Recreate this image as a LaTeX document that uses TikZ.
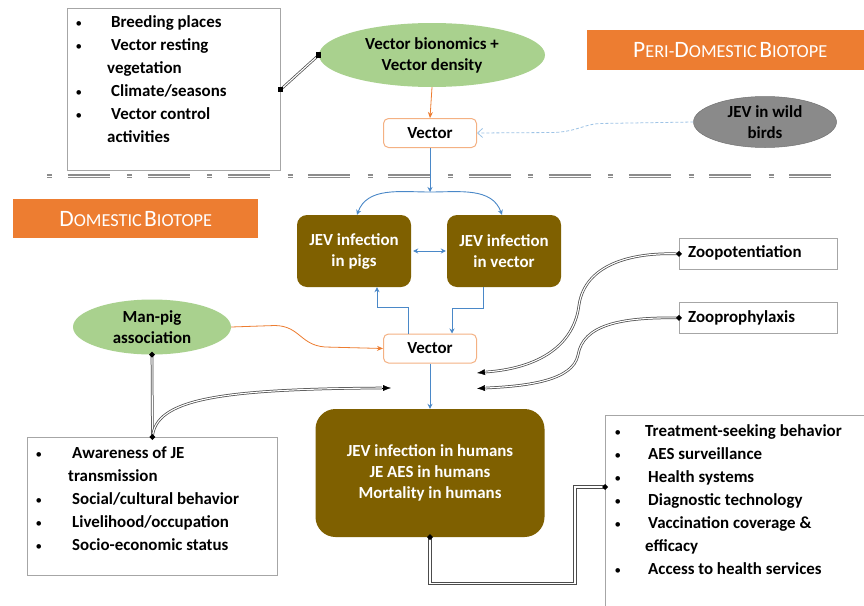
\documentclass[tikz,border=0pt]{standalone}
\usepackage{fontspec}
\setmainfont{Carlito}
\usetikzlibrary{arrows.meta,shapes.geometric,calc}
\definecolor{brownA}{HTML}{7F6000}
\definecolor{greenA}{HTML}{A9D18E}
\definecolor{orangeA}{HTML}{ED7D31}
\definecolor{orangeL}{HTML}{F4B183}
\definecolor{blueA}{HTML}{4A88C8}
\definecolor{blueL}{HTML}{9DC3E6}
\definecolor{grayA}{HTML}{A6A6A6}
\definecolor{grayB}{HTML}{8A8A8A}
\definecolor{sepgray}{HTML}{8C8C8C}
\newcommand\bigc[1]{{\fontsize{23.5}{24}\selectfont #1}}
\newcommand\smlc[1]{{\fontsize{18.3}{24}\selectfont #1}}
\newcommand\bul{{\fontsize{13}{13}\selectfont\mdseries\textbullet}}
\newcommand\dmd[1]{\fill[black] #1 ++(-3,0) -- ++(3,-3) -- ++(3,3) -- ++(-3,3) -- cycle;}
\newcommand\sqm[1]{\fill[black] #1 ++(-2.6,-2.6) rectangle ++(5.2,5.2);}
\tikzset{
  bodyfont/.style={font=\bfseries\fontsize{16.9}{21}\selectfont},
  listfont/.style={font=\bfseries\fontsize{16.9}{23}\selectfont},
  graybox/.style={draw=grayA, line width=0.8pt, fill=white, inner sep=0, anchor=north west},
  vecbox/.style={draw=orangeL, line width=1pt, rounded corners=5pt, fill=white,
    minimum width=93, minimum height=29, inner sep=0, bodyfont},
  brownbox/.style={fill=brownA, text=white, inner sep=0, align=center, bodyfont},
  greenell/.style={ellipse, fill=greenA, inner sep=0, align=center, bodyfont},
  bluearr/.style={draw=blueA, line width=0.9pt, -{Stealth[length=5pt,width=5pt]}},
  orangearr/.style={draw=orangeA, line width=0.8pt, -{Stealth[length=6pt,width=5pt]}},
  dbl/.style={draw=black!70, double=white, double distance=1.1pt, line width=0.75pt},
  tipblk/.style={draw=black, line width=0.4pt, -{Latex[length=8pt,width=6pt]}},
  biotope/.style={fill=orangeA, text=white, inner sep=0, anchor=north west},
  listtext/.style={anchor=north west, inner sep=0, listfont}
}
\begin{document}
\begin{tikzpicture}[x=1pt,y=-1pt]
\useasboundingbox (0,0) rectangle (864,605);
\fill[white] (0,0) rectangle (864,605);

% separator
\coordinate (sepL) at (47,176);
\coordinate (sepR) at (834,176);
\draw[draw=sepgray, double=white, double distance=1pt, line width=1.2pt,
  dash pattern=on 5pt off 15.5pt on 42pt off 17.7pt] (sepL) -- (sepR);

% biotope labels
\node[biotope, minimum width=286, minimum height=40] (peri) at (587,30)
  {\bigc{P}\smlc{ERI-}\bigc{D}\smlc{OMESTIC} \bigc{B}\smlc{IOTOPE}};
\node[biotope, minimum width=245, minimum height=39] (dom) at (13,199)
  {\bigc{D}\smlc{OMESTIC} \bigc{B}\smlc{IOTOPE}};

% top-left box
\node[graybox, minimum width=213, minimum height=162] (tlbox) at (67,8) {};
\node[listtext] (tllist) at (75.5,11) {\begin{tabular}{@{}p{35.5pt}@{}l@{}}
\bul & Breeding places\\
\bul & Vector resting\\
 & \hspace*{-4pt}vegetation\\
\bul & Climate/seasons\\
\bul & Vector control\\
 & \hspace*{-4pt}activities
\end{tabular}};

% ellipses top
\node[greenell, minimum width=226, minimum height=64] (vbe) at (432,55)
  {Vector bionomics +\\Vector density};
\node[ellipse, fill=grayB, draw=gray!90!black, line width=0.5pt, inner sep=0, align=center,
  bodyfont, minimum width=143, minimum height=51] (birds) at (765,122) {JEV in wild\\birds};

% vector boxes
\node[vecbox] (vtop) at (430,133) {Vector};
\node[vecbox] (vbot) at (430,348.5) {Vector};

% infection boxes
\node[brownbox, rounded corners=10pt, minimum width=114, minimum height=72] (pigs) at (354,251)
  {JEV infection\\in pigs};
\node[brownbox, rounded corners=10pt, minimum width=114, minimum height=72] (inf) at (504,251)
  {JEV infection\\in vector};
\node[brownbox, rounded corners=20pt, minimum width=229, minimum height=128] (hum) at (430,473)
  {JEV infection in humans\\JE AES in humans\\Mortality in humans};

% man-pig
\node[greenell, minimum width=158, minimum height=55] (mp) at (152,327)
  {Man-pig\\association};

% awareness box
\node[graybox, minimum width=250, minimum height=138] (aw) at (27,437) {};
\node[listtext] (awlist) at (35.5,442) {\begin{tabular}{@{}p{36.5pt}@{}l@{}}
\bul & Awareness of JE\\
 & \hspace*{-4pt}transmission\\
\bul & Social/cultural behavior\\
\bul & Livelihood/occupation\\
\bul & Socio-economic status
\end{tabular}};

% zoo boxes
\node[graybox, minimum width=158, minimum height=31] (zp) at (679,238) {};
\node[anchor=west, inner sep=0, bodyfont] (zptext) at (688,252.5) {Zoopotentiation};
\node[graybox, minimum width=158, minimum height=31] (zx) at (679,302) {};
\node[anchor=west, inner sep=0, bodyfont] (zxtext) at (688,317.5) {Zooprophylaxis};

% right box
\node[graybox, minimum width=270, minimum height=200] (rb) at (605,415) {};
\node[listtext] (rblist) at (614.5,420) {\begin{tabular}{@{}p{33.5pt}@{}l@{}}
\bul & \hspace*{-3pt}Treatment-seeking behavior\\
\bul & AES surveillance\\
\bul & Health systems\\
\bul & Diagnostic technology\\
\bul & Vaccination coverage \&\\
 & \hspace*{-3pt}efficacy\\
\bul & Access to health services
\end{tabular}};

% ---- connectors ----
\draw[orangearr] (vbe.south) -- (vtop.north);
\draw[blueL, dashed, dash pattern=on 3pt off 2pt, line width=0.8pt,
  -{Straight Barb[length=5pt,width=9pt]}]
  (birds.west) -- (600,123.5) .. controls (585,124) and (578,131) .. (555,132.5) -- (vtop.east);

\coordinate (split) at (430,192);
\draw[bluearr] (vtop.south) -- (split);
\draw[bluearr] (split) to[out=180,in=70] ($(pigs.north)+(3,0)$);
\draw[bluearr] (split) to[out=0,in=110] ($(inf.north)+(-2,0)$);
\draw[draw=blueA, line width=0.9pt, {Stealth[length=5pt,width=5pt]}-{Stealth[length=5pt,width=5pt]},
  shorten <=2pt, shorten >=1pt] (pigs.east) -- (inf.west);
\draw[bluearr] ($(vbot.north west)+(25,0)$) -- ++(0,-26) -| ($(pigs.south)+(23,0)$);
\draw[bluearr] ($(inf.south)+(-21,0)$) -- ++(0,21) -| ($(vbot.north east)+(-25,0)$);
\draw[orangearr] (mp.east) -- (275,325.5) .. controls (300,326) and (300,345) .. (325,347) -- (vbot.west);
\draw[bluearr] (vbot.south) -- (hum.north);

% double connectors
\draw[dbl] (tlbox.east) -- (vbe.west);
\sqm{(tlbox.east)} \sqm{(vbe.west)}

\draw[dbl] (mp.south) -- (aw.north);
\coordinate (mpend) at (382,388);
\coordinate (mptip) at (391,388);
\draw[dbl] (aw.north) .. controls (156,400) and (215,389) .. (mpend);
\draw[tipblk] (mpend) -- (mptip);
\dmd{(mp.south)} \dmd{(aw.north)}

\coordinate (zpend) at (486,372);
\coordinate (zptip) at (477,373);
\draw[dbl] (zp.west) .. controls (630,252) and (585,265) .. (579,305) .. controls (574,345) and (540,368) .. (zpend);
\draw[tipblk] (zpend) -- (zptip);
\coordinate (zxend) at (486,388);
\coordinate (zxtip) at (477,388.5);
\draw[dbl] (zx.west) .. controls (620,317) and (583,325) .. (578,355) .. controls (573,380) and (530,386) .. (zxend);
\draw[tipblk] (zxend) -- (zxtip);
\dmd{(zp.west)} \dmd{(zx.west)}

% human box connector (double line built from filled strips)
\coordinate (rbpt) at ($(rb.north west)+(0,72)$);
\path (hum.south) ++(0,46) coordinate (hc1) ++(145,0) coordinate (hc2);
\coordinate (hc3) at (hc2 |- rbpt);
\fill[black!70] ($(hum.south)+(-1.6,0)$) rectangle ($(hc1)+(1.6,1.6)$);
\fill[black!70] ($(hc1)+(-1.6,-1.6)$) rectangle ($(hc2)+(1.6,1.6)$);
\fill[black!70] ($(hc3)+(-1.6,-1.6)$) rectangle ($(hc2)+(1.6,1.6)$);
\fill[black!70] ($(hc3)+(-1.6,-1.6)$) rectangle ($(rbpt)+(0,1.6)$);
\fill[white] ($(hum.south)+(-0.6,0)$) rectangle ($(hc1)+(0.6,0.6)$);
\fill[white] ($(hc1)+(-0.6,-0.6)$) rectangle ($(hc2)+(0.6,0.6)$);
\fill[white] ($(hc3)+(-0.6,-0.6)$) rectangle ($(hc2)+(0.6,0.6)$);
\fill[white] ($(hc3)+(-0.6,-0.6)$) rectangle ($(rbpt)+(0,0.6)$);
\dmd{(hum.south)} \dmd{(rbpt)}
\end{tikzpicture}
\end{document}
